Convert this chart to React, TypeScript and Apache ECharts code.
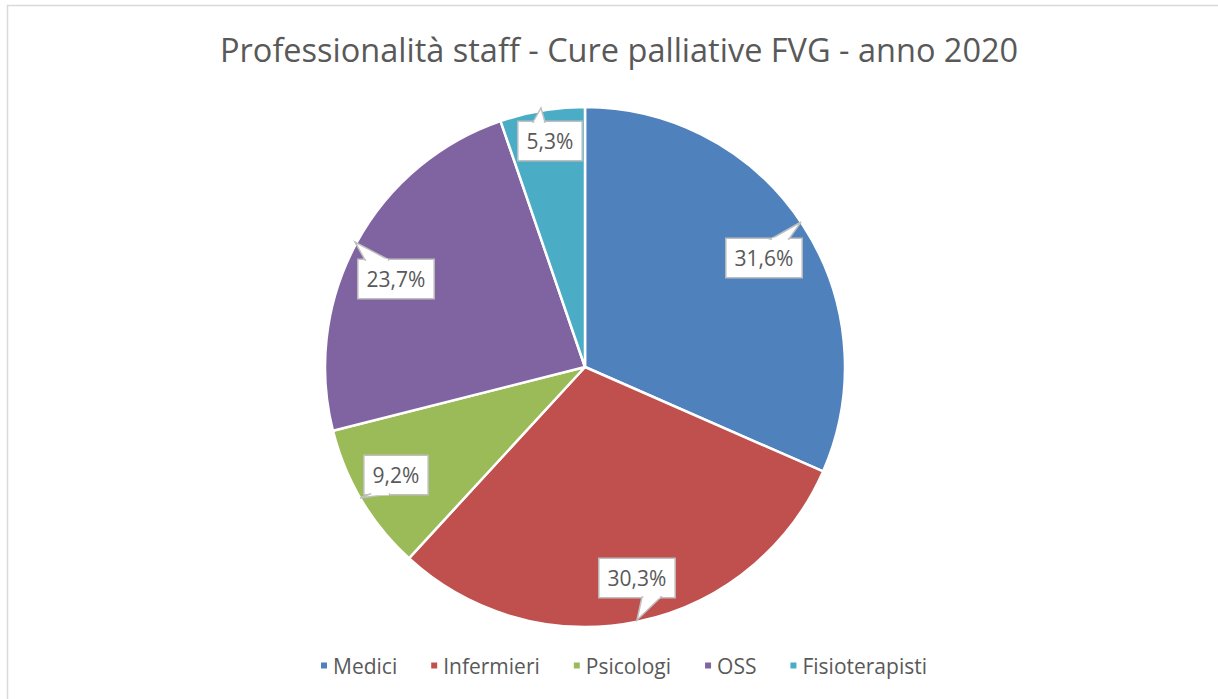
import { useEffect, useRef } from 'react';
import * as echarts from 'echarts';

const chartTitle = 'Professionalità staff - Cure palliative FVG - anno 2020';
const categories = ['Medici', 'Infermieri', 'Psicologi', 'OSS', 'Fisioterapisti'];
const staffCounts = [24, 23, 7, 18, 4];
const sliceColors = ['#4F81BD', '#C0504D', '#9BBB59', '#8064A2', '#4BACC6'];

// layout of the callout labels (centres) and their pointer wedges
const LABEL_CENTERS: [number, number][] = [
  [764, 258],
  [637, 578],
  [396, 475],
  [396, 279],
  [550, 141],
];
const HALF_H = 19;
// [baseX1, baseX2, side(-1 top / 1 bottom), tipX, tipY]
const WEDGES: [number, number, number, number, number][] = [
  [771, 789, -1, 801, 222],
  [642, 661, 1, 637, 620],
  [370, 390, 1, 360, 498],
  [365, 389, -1, 355, 242],
  [533, 545, -1, 541, 108],
];

const FONT = '"Open Sans", "Noto Sans", sans-serif';

export default function App() {
  const ref = useRef<HTMLDivElement>(null);
  useEffect(() => {
    if (!ref.current) return;
    const chart = echarts.init(ref.current, null, { renderer: 'svg' });
    const total = staffCounts.reduce((a, b) => a + b, 0);

    const wedgeGraphics: any[] = [];
    WEDGES.forEach((w, i) => {
      const cy = LABEL_CENTERS[i][1];
      const by = cy + w[2] * HALF_H;
      wedgeGraphics.push({
        type: 'polygon',
        z: 100,
        silent: true,
        shape: { points: [[w[0], by], [w[3], w[4]], [w[1], by]] },
        style: { fill: '#ffffff', stroke: '#bfbfbf', lineWidth: 1.5 },
      });
      wedgeGraphics.push({
        type: 'line',
        z: 101,
        silent: true,
        shape: { x1: w[0] + 1.2, y1: by, x2: w[1] - 1.2, y2: by },
        style: { stroke: '#ffffff', lineWidth: 2.5 },
      });
    });

    chart.setOption({
      animation: false,
      backgroundColor: '#ffffff',
      title: {
        text: chartTitle,
        left: 215,
        top: 28,
        textStyle: { fontFamily: FONT, fontSize: 32.5, fontWeight: 'normal', color: '#595959' },
      },
      legend: {
        data: categories,
        left: 314,
        top: 650,
        icon: 'rect',
        itemWidth: 8,
        itemHeight: 8,
        itemGap: 32,
        textStyle: { fontFamily: FONT, fontSize: 21, color: '#595959' },
      },
      graphic: [
        {
          type: 'rect',
          silent: true,
          z: -1,
          shape: { x: 7.5, y: 5.5, width: 1300, height: 800 },
          style: { fill: 'none', stroke: '#d9d9d9', lineWidth: 1.5 },
        },
        ...wedgeGraphics,
      ],
      series: [
        {
          type: 'pie',
          center: [585, 367],
          radius: 260,
          startAngle: 90,
          clockwise: true,
          emphasis: { disabled: true },
          itemStyle: { borderColor: '#ffffff', borderWidth: 2.5 },
          label: {
            show: true,
            position: 'inside',
            fontFamily: FONT,
            fontSize: 21,
            lineHeight: 24,
            color: '#595959',
            backgroundColor: '#ffffff',
            borderColor: '#bfbfbf',
            borderWidth: 1.5,
            padding: [7, 8],
            formatter: (p: any) => ((p.value / total) * 100).toFixed(1).replace('.', ',') + '%',
          },
          labelLayout: (p: any) => ({
            x: LABEL_CENTERS[p.dataIndex][0],
            y: LABEL_CENTERS[p.dataIndex][1],
            align: 'center',
            verticalAlign: 'middle',
          }),
          data: categories.map((name, i) => ({
            name,
            value: staffCounts[i],
            itemStyle: { color: sliceColors[i] },
          })),
        },
      ],
    });
    return () => chart.dispose();
  }, []);
  return (
    <div
      ref={ref}
      style={{ position: 'fixed', left: 0, top: 0, width: 1218, height: 699, background: '#fff' }}
    />
  );
}
